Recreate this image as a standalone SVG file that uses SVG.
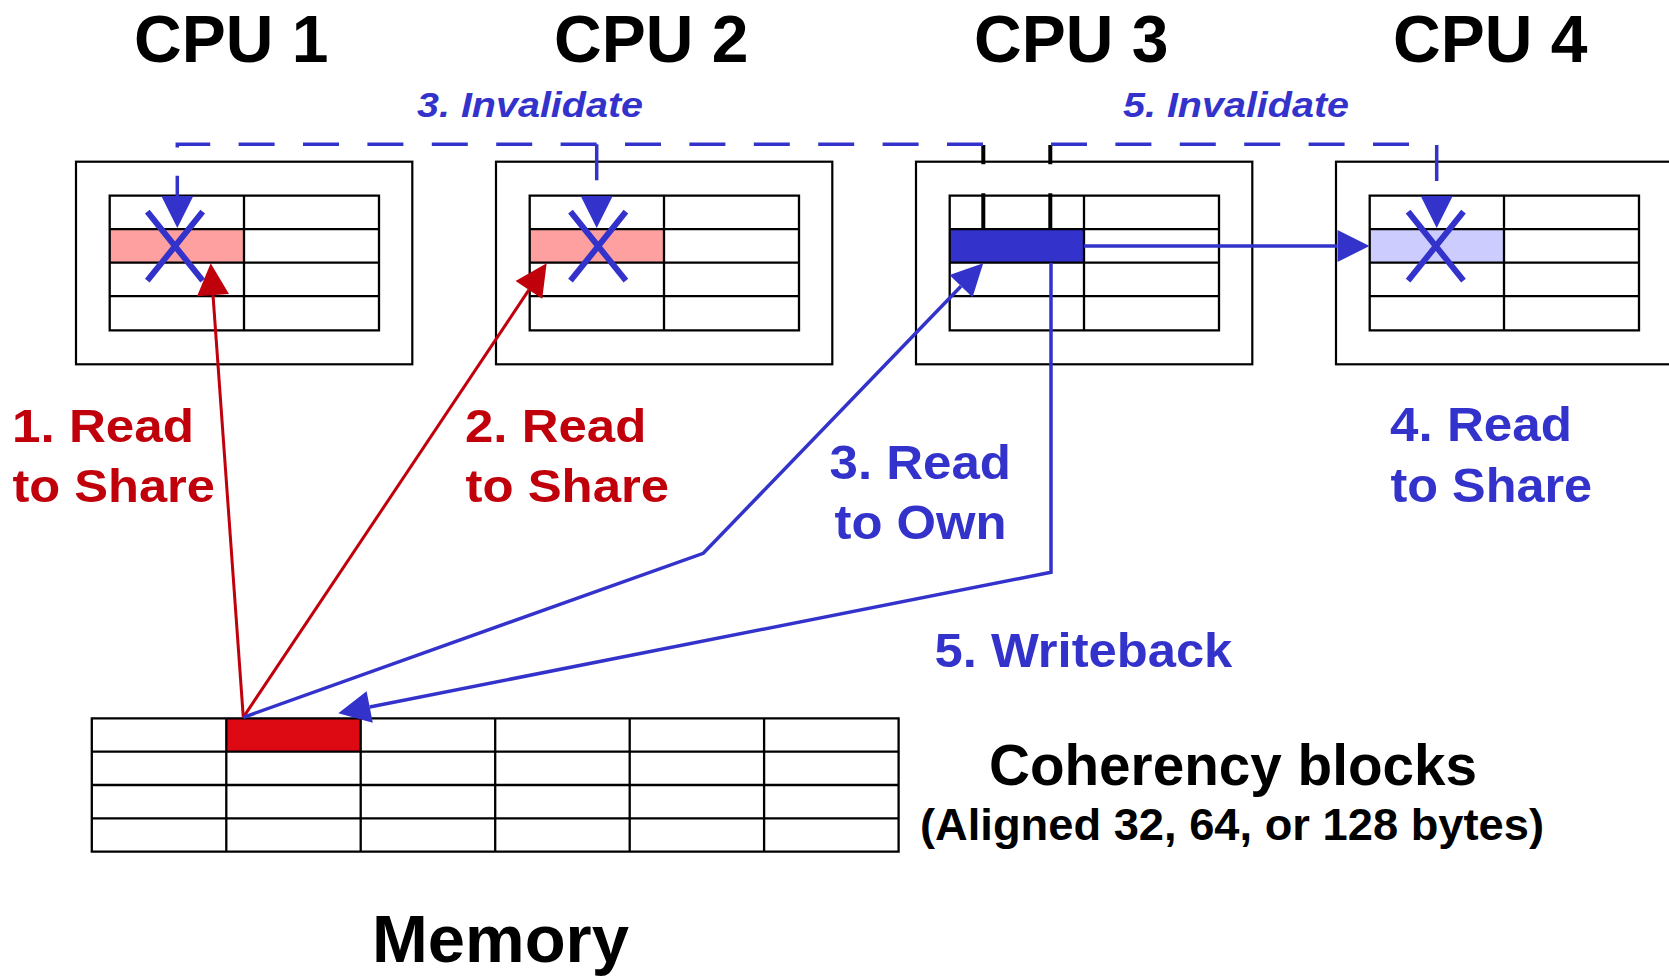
<svg xmlns="http://www.w3.org/2000/svg" xmlns:xlink="http://www.w3.org/1999/xlink" width="1669" height="976" viewBox="0 0 1669 976">
<style>
  .t { font-family: "Liberation Sans", Arial, sans-serif; font-weight: bold; }
  .title { font-size: 66px; fill: #000; }
  .red { fill: #C0000B; font-size: 47px; }
  .blue { fill: #3333CC; font-size: 48px; }
  .inv { fill: #3333CC; font-size: 35px; font-style: italic; }
  .blk { fill: #000; }
  .box { fill: none; stroke: #000; stroke-width: 2.2; }
  .grid { fill: none; stroke: #000; stroke-width: 2.3; }
  .rline { fill: none; stroke: #C0000B; stroke-width: 3; }
  .bline { fill: none; stroke: #3333CC; stroke-width: 3.5; }
  .dash { fill: none; stroke: #3333CC; stroke-width: 3.5; stroke-dasharray: 36 28.4; }
  .tick { stroke: #000; stroke-width: 4; }
  .xm { fill: none; stroke: #3333CC; stroke-width: 6; }
</style>
<defs>
  <marker id="ab" markerUnits="userSpaceOnUse" markerWidth="33" markerHeight="32" refX="0" refY="16" orient="auto" overflow="visible">
    <path d="M0,0 L32,16 L0,32 Z" fill="#3333CC"/>
  </marker>
  <marker id="ar" markerUnits="userSpaceOnUse" markerWidth="33" markerHeight="32" refX="0" refY="16" orient="auto" overflow="visible">
    <path d="M0,0 L32,16 L0,32 Z" fill="#C0000B"/>
  </marker>
  <g id="cache">
    <rect x="0" y="0" width="336.3" height="202.6" class="box"/>
    <path class="grid" d="M33.7,34 H303 V168.6 H33.7 Z M33.7,67.5 H303 M33.7,101 H303 M33.7,134.5 H303 M168,34 V168.6"/>
  </g>
  <path id="xmark" class="xm" d="M-27.7,-34.5 L27.7,34.5 M27.7,-34.5 L-27.7,34.5"/>
</defs>
<rect width="1669" height="976" fill="#fff"/>

<g id="cpu1">
  <text class="t title" x="134" y="61.7">CPU 1</text>
  <rect x="109.7" y="229.2" width="134.3" height="33.5" fill="#FFA0A0"/>
  <use xlink:href="#cache" x="76" y="161.7"/>
</g>
<g id="cpu2">
  <text class="t title" x="554" y="61.7">CPU 2</text>
  <rect x="529.7" y="229.2" width="134.3" height="33.5" fill="#FFA0A0"/>
  <use xlink:href="#cache" x="496" y="161.7"/>
</g>
<g id="cpu3">
  <text class="t title" x="974" y="61.7">CPU 3</text>
  <rect x="949.7" y="229.2" width="134.3" height="33.5" fill="#3333CC"/>
  <use xlink:href="#cache" x="916" y="161.7"/>
  <path class="tick" d="M983.3,145 V164.3 M983.3,193.3 V229 M1050.3,145 V164.3 M1050.3,193.3 V229"/>
</g>
<g id="cpu4">
  <text class="t title" x="1393" y="61.7">CPU 4</text>
  <rect x="1369.7" y="229.2" width="134.3" height="33.5" fill="#CCCCFF"/>
  <use xlink:href="#cache" x="1336" y="161.7"/>
</g>
<g id="memory">
  <rect x="226.3" y="718.3" width="134.4" height="33.3" fill="#DD0A14"/>
  <path class="grid" d="M91.8,718.3 H898.6 V851.6 H91.8 Z M91.8,751.6 H898.6 M91.8,785 H898.6 M91.8,818.3 H898.6 M226.3,718.3 V851.6 M360.7,718.3 V851.6 M495.2,718.3 V851.6 M629.7,718.3 V851.6 M764.1,718.3 V851.6"/>
  <text class="t blk" x="372" y="962" font-size="67">Memory</text>
  <text class="t blk" x="989" y="785" font-size="57" textLength="488" lengthAdjust="spacingAndGlyphs">Coherency blocks</text>
  <text class="t blk" x="920" y="840" font-size="45" textLength="624" lengthAdjust="spacingAndGlyphs">(Aligned 32, 64, or 128 bytes)</text>
</g>

<g id="connectors">
  <path class="dash" d="M983,144.3 H177.3 V196" marker-end="url(#ab)"/>
  <path class="dash" d="M596.7,144.3 V196" marker-end="url(#ab)"/>
  <path class="dash" d="M1051,144.3 H1436.7 V196" marker-end="url(#ab)"/>
  <path class="rline" d="M243.3,717.3 L213,295.2" marker-end="url(#ar)"/>
  <path class="rline" d="M243.3,717.3 L528.9,289.9" marker-end="url(#ar)"/>
  <path class="bline" d="M243.3,717.3 L703.3,553.3 L961,286.2" marker-end="url(#ab)"/>
  <path class="bline" d="M1051,262.7 V572.3 L369.7,707" marker-end="url(#ab)"/>
  <path class="bline" d="M1084,246 H1337.5" marker-end="url(#ab)"/>
  <use xlink:href="#xmark" x="175" y="246.2"/>
  <use xlink:href="#xmark" x="598.2" y="246.2"/>
  <use xlink:href="#xmark" x="1435.8" y="246.2"/>
</g>

<g id="labels">
  <text class="t inv" x="417" y="117" textLength="226" lengthAdjust="spacingAndGlyphs">3. Invalidate</text>
  <text class="t inv" x="1123" y="117" textLength="226" lengthAdjust="spacingAndGlyphs">5. Invalidate</text>
  <text class="t red" x="12" y="441.7" textLength="182" lengthAdjust="spacingAndGlyphs">1. Read</text>
  <text class="t red" x="12.4" y="501.7" textLength="202.5" lengthAdjust="spacingAndGlyphs">to Share</text>
  <text class="t red" x="465" y="441.7" textLength="181.3" lengthAdjust="spacingAndGlyphs">2. Read</text>
  <text class="t red" x="465.5" y="501.7" textLength="203.6" lengthAdjust="spacingAndGlyphs">to Share</text>
  <text class="t blue" x="829.5" y="479.3" textLength="181.5" lengthAdjust="spacingAndGlyphs">3. Read</text>
  <text class="t blue" x="834.5" y="539" textLength="172" lengthAdjust="spacingAndGlyphs">to Own</text>
  <text class="t blue" x="1390" y="440.7" textLength="182" lengthAdjust="spacingAndGlyphs">4. Read</text>
  <text class="t blue" x="1390.5" y="501.7" textLength="201.6" lengthAdjust="spacingAndGlyphs">to Share</text>
  <text class="t blue" x="934.5" y="667.3" textLength="297.8" lengthAdjust="spacingAndGlyphs">5. Writeback</text>
</g>
</svg>
